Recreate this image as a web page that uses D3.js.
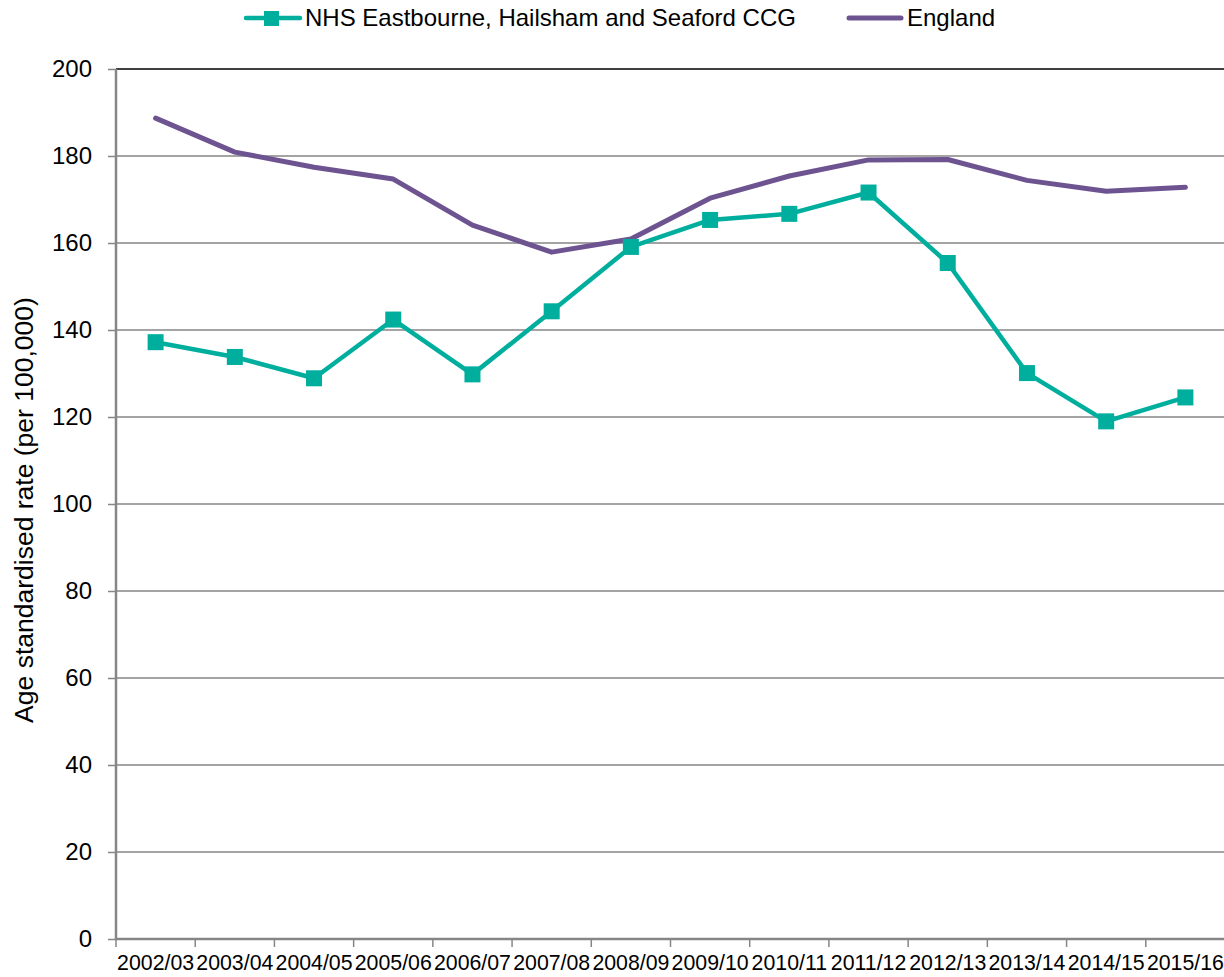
<!DOCTYPE html>
<html><head><meta charset="utf-8">
<script src="https://cdn.jsdelivr.net/npm/d3@7"></script>
<style>body{margin:0;background:#fff}svg{display:block;font-family:"Liberation Sans",Arial,sans-serif}</style>
</head><body><svg id="c" width="1224" height="977"></svg>
<script>
const categories = ["2002/03","2003/04","2004/05","2005/06","2006/07","2007/08","2008/09","2009/10","2010/11","2011/12","2012/13","2013/14","2014/15","2015/16"];
const ccgValues = [137.2,133.8,128.9,142.4,129.8,144.3,159.1,165.3,166.7,171.6,155.4,130.1,119.0,124.5];
const englandValues = [188.7,180.9,177.4,174.7,164.1,157.9,160.9,170.3,175.4,179.1,179.2,174.4,171.9,172.8];
const yTicks = [0,20,40,60,80,100,120,140,160,180,200];
const seriesNames = ["NHS Eastbourne, Hailsham and Seaford CCG","England"];

const svg = d3.select("#c");
const x = d3.scaleBand().domain(categories).range([116,1225]);
const y = d3.scaleLinear().domain([0,200]).range([939,69]);
const teal = "#00ae9e", purple = "#6d5491", grid = "#868686";

// gridlines
svg.append("g").selectAll("line").data(yTicks.filter(d=>d>0)).join("line")
  .attr("x1",116).attr("x2",1224).attr("y1",d=>y(d)).attr("y2",d=>y(d))
  .attr("stroke",d=>d===200?"#000":grid).attr("stroke-width",1.5);

// y axis
const ya = svg.append("g").attr("transform","translate(116,0)").call(d3.axisLeft(y).tickValues(yTicks).tickSize(8).tickPadding(16));
ya.select(".domain").attr("stroke",grid).attr("stroke-width",2.5).attr("d","M0,69V940");
ya.selectAll(".tick line").attr("stroke",grid).attr("stroke-width",1.5);
ya.selectAll(".tick text").attr("font-size",24).attr("fill","#000").attr("font-family","Liberation Sans, Arial, sans-serif");

// x axis
const xa = svg.append("g").attr("transform","translate(0,939)").call(d3.axisBottom(x).tickSize(0).tickPadding(16));
xa.select(".domain").attr("stroke",grid).attr("stroke-width",2.5).attr("d","M115,0H1224");
xa.selectAll(".tick text").attr("font-size",21.3).attr("fill","#000").attr("font-family","Liberation Sans, Arial, sans-serif");
svg.append("g").selectAll("line").data(categories).join("line")
  .attr("x1",d=>x(d)).attr("x2",d=>x(d)).attr("y1",939).attr("y2",947)
  .attr("stroke",grid).attr("stroke-width",1.5);

// y label
svg.append("text").attr("transform","translate(33,510) rotate(-90)").attr("text-anchor","middle")
  .attr("font-size",26.5).text("Age standardised rate (per 100,000)");

const cx = d => x(d) + x.bandwidth()/2;
const line = d3.line().x(d=>cx(d.c)).y(d=>y(d.v));

svg.append("path").datum(categories.map((c,i)=>({c,v:englandValues[i]})))
  .attr("d",line).attr("fill","none").attr("stroke",purple).attr("stroke-width",5).attr("stroke-linecap","round").attr("stroke-linejoin","round");
const ccg = categories.map((c,i)=>({c,v:ccgValues[i]}));
svg.append("path").datum(ccg).attr("d",line).attr("fill","none").attr("stroke",teal).attr("stroke-width",4.5).attr("stroke-linejoin","round");
svg.append("g").selectAll("rect").data(ccg).join("rect")
  .attr("x",d=>cx(d.c)-8).attr("y",d=>y(d.v)-8).attr("width",16).attr("height",16).attr("fill",teal);

// legend
const lg = svg.append("g");
lg.append("line").attr("x1",246).attr("x2",300).attr("y1",18).attr("y2",18).attr("stroke",teal).attr("stroke-width",4.5).attr("stroke-linecap","round");
lg.append("rect").attr("x",264).attr("y",11).attr("width",15).attr("height",15).attr("fill",teal);
lg.append("text").attr("x",305).attr("y",26).attr("font-size",24).text(seriesNames[0]);
lg.append("line").attr("x1",849).attr("x2",901).attr("y1",18).attr("y2",18).attr("stroke",purple).attr("stroke-width",5).attr("stroke-linecap","round");
lg.append("text").attr("x",907).attr("y",26).attr("font-size",24).text(seriesNames[1]);
</script></body></html>
